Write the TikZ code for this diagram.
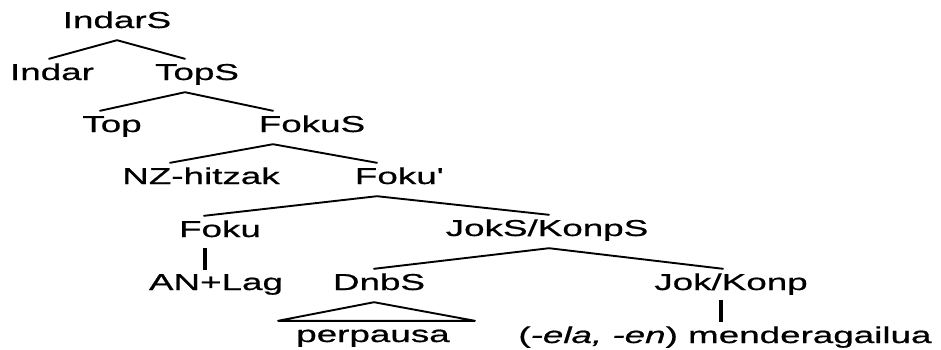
\documentclass[tikz,border=0pt]{standalone}
\usepackage{fontspec}
\setmainfont{Liberation Sans}[FakeStretch=1.6, FakeBold=0.7]
\usepackage{tikz}
\usetikzlibrary{positioning}

\begin{document}
\begin{tikzpicture}[x=1pt, y=-1pt,
    font=\fontsize{23}{27}\selectfont,
    cat/.style={anchor=base, inner xsep=0pt, inner ysep=7pt,
                text height=14pt, text depth=5pt},
    branch/.style={line width=1.9pt, line cap=round, line join=round},
    stem/.style={line width=4pt}]
  \useasboundingbox (0,0) rectangle (941,349);
  % Categories, row by row
  \node[cat] (indars)  at (117,28)  {IndarS};
  \node[cat] (indar)   at (52,80)   {Indar};
  \node[cat] (tops)    at (197,80)  {TopS};
  \node[cat] (top)     at (112,132) {Top};
  \node[cat] (fokus)   at (312,132) {FokuS};
  \node[cat] (nz)      at (201,184) {NZ-hitzak};
  \node[cat] (fokubar) at (398,184) {Foku\textquotesingle};
  \node[cat] (foku)    at (220,237) {Foku};
  \node[cat] (joks)    at (547,236) {JokS/KonpS};
  \node[cat] (anlag)   at (216,290) {AN+Lag};
  \node[cat] (dnbs)    at (379,290) {DnbS};
  \node[cat] (jok)     at (731,290) {Jok/Konp};
  \node[cat] (perp)    at (373,342) {perpausa};
  \node[cat] (mend)    at (725,343) {(\textit{-ela, -en}) menderagailua};
  % Branches
  \draw[branch] ([xshift=-3pt]indar.north) -- (indars.south)
    -- ([xshift=-12pt]tops.north);
  \draw[branch] ([xshift=-12pt]top.north) -- ([xshift=-12pt]tops.south)
    -- ([xshift=-39pt]fokus.north);
  \draw[branch] ([xshift=-31pt]nz.north) -- ([xshift=-39pt]fokus.south)
    -- ([xshift=-21pt]fokubar.north);
  \draw[branch] ([xshift=-16pt]foku.north) -- ([xshift=-21pt]fokubar.south)
    -- ([xshift=2pt]joks.north);
  \draw[branch] ([xshift=-5pt]dnbs.north) -- ([xshift=2pt]joks.south)
    -- ([xshift=-8pt]jok.north);
  % Unary branches
  \draw[stem] ([xshift=-15pt,yshift=1pt]foku.south)
    -- ([xshift=-11pt,yshift=-1pt]anlag.north);
  \draw[stem] ([xshift=-10pt,yshift=2pt]jok.south)
    -- ([xshift=-4pt]mend.north);
  % Triangle over the clause
  \draw[branch] ([xshift=-5pt]dnbs.south) -- ([xshift=-18pt]perp.north west)
    -- ([xshift=25pt]perp.north east) -- cycle;
\end{tikzpicture}
\end{document}
